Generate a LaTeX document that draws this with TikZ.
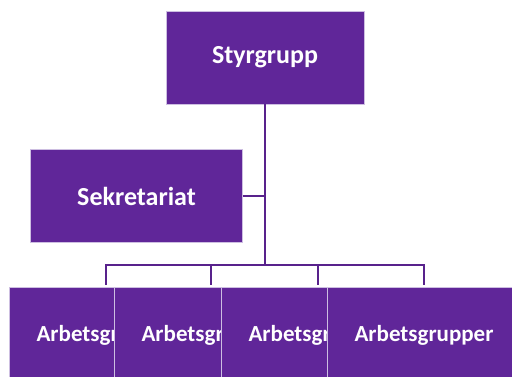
\documentclass[tikz,border=0pt]{standalone}
\usepackage{fontspec}
\setmainfont{Carlito}
\usetikzlibrary{positioning}
\definecolor{orgpurple}{RGB}{96,38,153}
\definecolor{orgline}{RGB}{88,34,140}
\definecolor{orgedge}{RGB}{205,190,225}
\begin{document}
\begin{tikzpicture}[x=1pt,y=-1pt,font=\bfseries,
  orgbox/.style={rectangle,fill=orgpurple,draw=orgedge,line width=0.8pt,text=white,inner sep=0pt},
  bigtext/.style={font=\fontsize{26}{30}\selectfont\bfseries},
  grouptext/.style={font=\fontsize{23}{27}\selectfont\bfseries},
  link/.style={draw=orgline,line width=2pt}]

  \useasboundingbox (0,0) rectangle (512,376);
  \clip (0,0) rectangle (512,376);

  \node[orgbox,bigtext,minimum width=198pt,minimum height=93pt] (styr) at (265,57.5) {Styrgrupp};
  \node[orgbox,bigtext,minimum width=212pt,minimum height=93pt] (sekr) at (136.5,196) {Sekretariat};

  % bus coordinates
  \coordinate (trunk) at (265,265);
  \coordinate (sekrj) at (265,196);
  \coordinate (bus1) at (106,265);
  \coordinate (bus4) at (424,265);

  \draw[link] (styr.south) -- (trunk);
  \draw[link] (sekr.east) -- (sekrj);
  \draw[link,line cap=rect] (bus1) -- (bus4);

  % working groups, later ones overlap earlier ones
  \foreach \i/\x in {1/106,2/211,3/318,4/424}{
    \coordinate (drop\i) at (\x,265);
    \draw[link] (drop\i) -- (\x,285);
    \node[orgbox,grouptext,minimum width=194pt,minimum height=96pt] (ag\i) at (\x,335.5) {Arbetsgrupper};
  }

\end{tikzpicture}
\end{document}
